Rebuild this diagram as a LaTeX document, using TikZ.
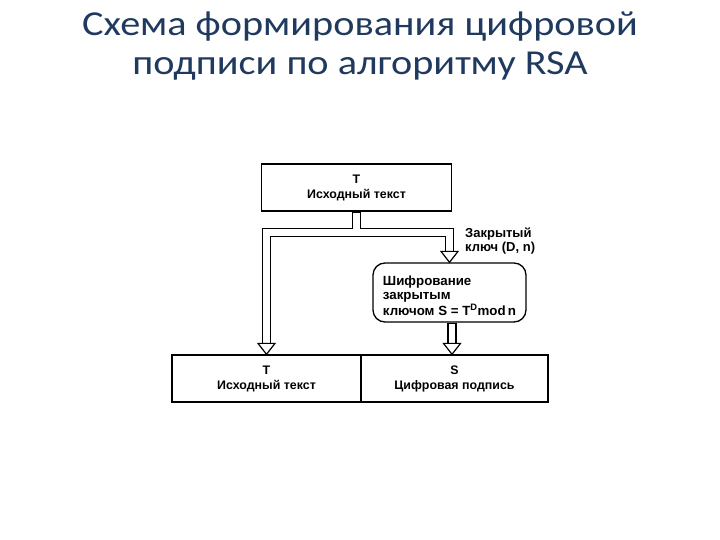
\documentclass[tikz,border=0pt]{standalone}
\usepackage{fontspec}
\setmainfont{Liberation Sans}
\newfontfamily\titlefont{Carlito}
\usetikzlibrary{calc}
\definecolor{titleblue}{HTML}{1F3A5E}
\newcommand\ahead[1]{\draw[line width=1.2pt, fill=white, line join=miter] ($(#1)+(-8.5,-11)$) -- (#1) -- ($(#1)+(8.5,-11)$) -- cycle;}
\begin{document}
\begin{tikzpicture}[x=1pt,y=-1pt,
  txt/.style={font=\fontsize{12.4}{15}\selectfont\bfseries},
  box/.style={draw, line width=1.3pt, minimum height=47pt, inner sep=0pt, align=center, txt},
  rbox/.style={draw, line width=1.3pt, rounded corners=12pt, minimum width=153pt, minimum height=59pt, inner sep=0pt, align=left, font=\fontsize{13.3}{14.6}\selectfont\bfseries},
  title/.style={text=titleblue, anchor=base, inner sep=0pt, font=\titlefont\fontsize{35}{39}\selectfont},
  shaftout/.style={line width=9.2pt, line join=miter},
  shaftin/.style={white, line width=6.8pt, line join=miter}]
\useasboundingbox (0,0) rectangle (720,540);
\node[title] (ttl1) at (360,36) {\scalebox{1.15}[1]{Схема формирования цифровой}};
\node[title] (ttl2) at (360,75) {\scalebox{1.15}[1]{подписи по алгоритму RSA}};
\node[box, minimum width=190pt] (top) at (356.5,187.5) {T\\Исходный текст};
\node[rbox] (enc) at (449.5,292.5) {\raisebox{-5pt}[\height][\depth]{\begin{tabular}{@{}l@{}}Шифрование\\закрытым\\ключом S = T\textsuperscript{D}mod\,n\end{tabular}}};
\node[box, minimum width=189pt] (bl) at (266.5,378.5) {T\\Исходный текст};
\node[box, minimum width=187pt] (br) at (454.5,378.5) {S\\Цифровая подпись};
\node[anchor=north west, align=left, inner sep=0pt, font=\fontsize{13}{14}\selectfont\bfseries] (key) at (465,228) {Закрытый\\ключ (D, n)};
\coordinate (j) at ($(top.south)+(0,20.5)$);
\coordinate (ab1) at ($(bl.north)+(0,-11)$);
\coordinate (ab2) at ($(enc.north)+(0,-11)$);
\coordinate (s3) at ($(enc.south)+(2.5,0)$);
\coordinate (ab3) at ($(br.north -| s3)+(0,-11)$);
\coordinate (t3) at ($(br.north -| s3)$);
\draw[shaftout] (top.south) -- (j) -| (ab1);
\draw[shaftout] (j) -| (ab2);
\draw[shaftout] (s3) -- (ab3);
\draw[shaftin] ($(top.south)+(0,1.5)$) -- (j) -| (ab1);
\draw[shaftin] (j) -| (ab2);
\draw[shaftin] ($(s3)+(0,1.5)$) -- (ab3);
\ahead{bl.north}
\ahead{enc.north}
\ahead{t3}
\end{tikzpicture}
\end{document}
